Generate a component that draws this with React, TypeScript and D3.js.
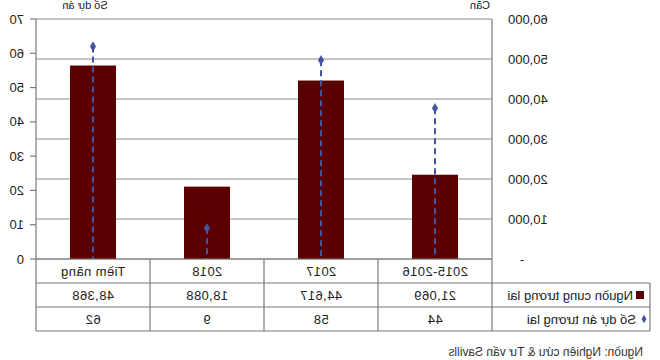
import React from "react";
import * as d3 from "d3";

const categories = ["2015-2016", "2017", "2018", "Tiềm năng"];
const supply = [21069, 44617, 18088, 48368];
const projects = [44, 58, 9, 62];
const supplyTicks = [0, 10000, 20000, 30000, 40000, 50000, 60000];
const projectTicks = [0, 10, 20, 30, 40, 50, 60, 70];
const seriesNames = ["Nguồn cung tương lai", "Số dự án tương lai"];
const axisTitles = ["Căn", "Số dự án"];
const sourceText = "Nguồn: Nghiên cứu & Tư vấn Savills";

const W = 660;
const H = 360;
const plotL = 168;
const plotR = 624;
const plotT = 19;
const plotB = 259;
const rowH = 24;
const legendL = 10;

const BAR = "#5a0000";
const LINE = "#44559f";
const GRID = "#8c8c8c";
const BORDER = "#7a7a7a";
const TEXT = "#222";
const FONT = "'Liberation Sans', Arial, sans-serif";

export default function App() {
  const x = d3.scaleBand<string>().domain(categories).range([plotL, plotR]).padding(0);
  const y1 = d3.scaleLinear().domain([0, 60000]).range([plotB, plotT]);
  const y2 = d3.scaleLinear().domain([0, 70]).range([plotB, plotT]);
  const fmt = d3.format(",");
  const barW = 46;
  const bw = x.bandwidth();
  const diamond = d3.symbol().type(d3.symbolDiamond).size(32)();
  const legendDiamond = d3.symbol().type(d3.symbolDiamond).size(22)();

  const rows = [
    { y: plotB, values: categories },
    { y: plotB + rowH, values: supply.map((v) => fmt(v)) },
    { y: plotB + 2 * rowH, values: projects.map((v) => String(v)) },
  ];

  return (
    <svg
      width={W}
      height={H}
      style={{ position: "absolute", left: 0, top: 0, background: "#fff" }}
      fontFamily={FONT}
    >
      <rect x={0} y={0} width={W} height={H} fill="#fff" />
      <g transform={`translate(${W},0) scale(-1,1)`}>
        {/* gridlines */}
        {supplyTicks.map((t) => (
          <line key={"g" + t} x1={plotL} x2={plotR} y1={y1(t)} y2={y1(t)} stroke={GRID} strokeWidth={1.2} />
        ))}
        {/* left (primary) axis line */}
        <line x1={plotL} x2={plotL} y1={plotT} y2={plotB + 3 * rowH} stroke={BORDER} strokeWidth={1.2} />
        {/* right (secondary) axis line */}
        <line x1={plotR} x2={plotR} y1={plotT} y2={plotB + 3 * rowH} stroke={BORDER} strokeWidth={1.2} />
        {projectTicks.map((t) => (
          <g key={"p" + t}>
            <line x1={plotR} x2={plotR + 6} y1={y2(t)} y2={y2(t)} stroke={BORDER} strokeWidth={1.2} />
            <text x={plotR + 12} y={y2(t)} dy="0.35em" fontSize={13} fill={TEXT}>
              {t}
            </text>
          </g>
        ))}
        {supplyTicks.map((t) => (
          <text
            key={"s" + t}
            x={t === 0 ? plotL - 28 : plotL - 16}
            y={y1(t)}
            dy="0.35em"
            fontSize={13}
            fill={TEXT}
            textAnchor="end"
          >
            {t === 0 ? "-" : fmt(t)}
          </text>
        ))}
        {/* axis titles */}
        <text x={plotL + 12} y={9} fontSize={11} fill={TEXT} textAnchor="middle">
          {axisTitles[0]}
        </text>
        <text x={plotR - 49} y={9} fontSize={11} fill={TEXT} textAnchor="middle">
          {axisTitles[1]}
        </text>
        {/* bars */}
        {categories.map((c, i) => (
          <rect
            key={"b" + c}
            x={(x(c) as number) + bw / 2 - barW / 2}
            y={y1(supply[i])}
            width={barW}
            height={plotB - y1(supply[i])}
            fill={BAR}
          />
        ))}
        {/* project drop lines and markers */}
        {categories.map((c, i) => {
          const cx = (x(c) as number) + bw / 2;
          return (
            <g key={"m" + c}>
              <line
                x1={cx}
                x2={cx}
                y1={y2(projects[i])}
                y2={plotB}
                stroke={LINE}
                strokeWidth={2}
                strokeDasharray="6 4"
              />
              <path d={diamond as string} transform={`translate(${cx},${y2(projects[i])})`} fill={LINE} />
            </g>
          );
        })}
        {/* data table */}
        <line x1={plotL} x2={plotR} y1={plotB} y2={plotB} stroke={BORDER} strokeWidth={1.2} />
        <line x1={legendL} x2={plotR} y1={plotB + rowH} y2={plotB + rowH} stroke={BORDER} strokeWidth={1.2} />
        <line x1={legendL} x2={plotR} y1={plotB + 2 * rowH} y2={plotB + 2 * rowH} stroke={BORDER} strokeWidth={1.2} />
        <line x1={legendL} x2={plotR} y1={plotB + 3 * rowH} y2={plotB + 3 * rowH} stroke={BORDER} strokeWidth={1.2} />
        <line x1={legendL} x2={legendL} y1={plotB + rowH} y2={plotB + 3 * rowH} stroke={BORDER} strokeWidth={1.2} />
        {categories.slice(1).map((c) => (
          <line
            key={"v" + c}
            x1={x(c) as number}
            x2={x(c) as number}
            y1={plotB}
            y2={plotB + 3 * rowH}
            stroke={BORDER}
            strokeWidth={1.2}
          />
        ))}
        {rows.map((r, ri) =>
          r.values.map((v, i) => (
            <text
              key={"t" + ri + "-" + i}
              x={(x(categories[i]) as number) + bw / 2}
              y={r.y + rowH / 2}
              dy="0.36em"
              fontSize={13}
              fill={TEXT}
              textAnchor="middle"
              letterSpacing={0.4}
            >
              {v}
            </text>
          ))
        )}
        {/* legend cells */}
        <rect x={16} y={plotB + rowH + rowH / 2 - 4} width={8} height={8} fill={BAR} />
        <text x={27} y={plotB + rowH + rowH / 2} dy="0.36em" fontSize={13} fill={TEXT}>
          {seriesNames[0]}
        </text>
        <path d={legendDiamond as string} transform={`translate(16,${plotB + 2 * rowH + rowH / 2})`} fill={LINE} />
        <text x={24} y={plotB + 2 * rowH + rowH / 2} dy="0.36em" fontSize={13} fill={TEXT}>
          {seriesNames[1]}
        </text>
        {/* source */}
        <text x={17} y={356} fontSize={12} fill="#333">
          {sourceText}
        </text>
      </g>
    </svg>
  );
}
